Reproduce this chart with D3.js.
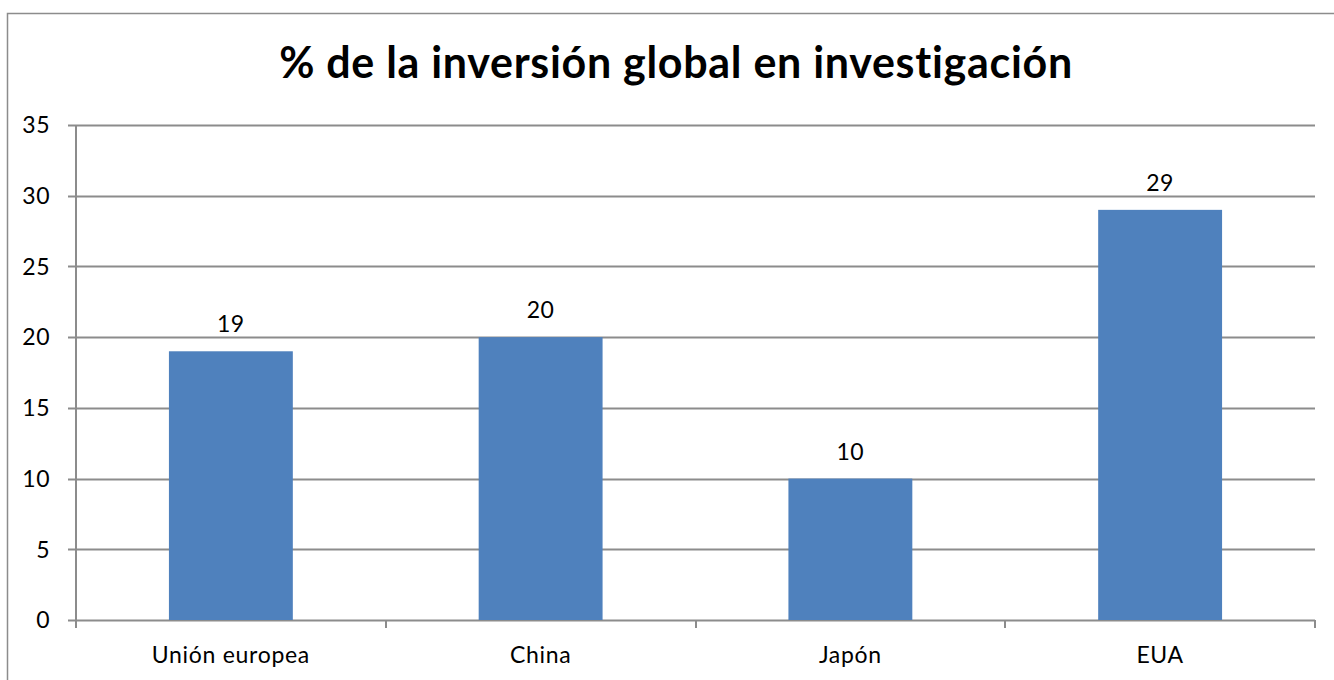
<!DOCTYPE html>
<html>
<head>
<meta charset="utf-8">
<script src="https://cdn.jsdelivr.net/npm/d3@7"></script>
<style>
body { margin: 0; background: #fff; }
svg text { font-family: Lato, "Open Sans", sans-serif; fill: #000; font-variant-ligatures: none; }
</style>
</head>
<body>
<svg id="chart"></svg>
<script>
// datos
var categories = ["Unión europea", "China", "Japón", "EUA"];
var values = [19, 20, 10, 29];
var yTicks = [0, 5, 10, 15, 20, 25, 30, 35];
var title = "% de la inversión global en investigación";

var width = 1334, height = 680;
var plot = { left: 76, right: 1315, top: 125, bottom: 620 };
var gridColor = "#8c8c8c";
var barColor = "#4f81bd";

var svg = d3.select("#chart")
	.attr("width", width)
	.attr("height", height);

// marco exterior
svg.append("rect")
	.attr("x", 7.5).attr("y", 13.5)
	.attr("width", 1340).attr("height", 700)
	.attr("fill", "none")
	.attr("stroke", "#8c8c8c")
	.attr("stroke-width", 1.5);

var x = d3.scaleBand()
	.domain(categories)
	.range([plot.left, plot.right])
	.paddingInner(0.6)
	.paddingOuter(0.3);

var xb = d3.scaleBand()
	.domain(categories)
	.range([plot.left, plot.right]);

var y = d3.scaleLinear()
	.domain([0, 35])
	.range([plot.bottom, plot.top]);

// rejilla horizontal
svg.append("g")
	.selectAll("line")
	.data(yTicks)
	.join("line")
	.attr("x1", plot.left - 8)
	.attr("x2", plot.right)
	.attr("y1", d => Math.round(y(d)) + 0.5)
	.attr("y2", d => Math.round(y(d)) + 0.5)
	.attr("stroke", gridColor)
	.attr("stroke-width", 2);

// etiquetas del eje y
svg.append("g")
	.selectAll("text")
	.data(yTicks)
	.join("text")
	.attr("x", 50)
	.attr("y", d => y(d))
	.attr("dy", "0.36em")
	.attr("text-anchor", "end")
	.attr("font-size", "23px")
	.attr("letter-spacing", "0.5px")
	.text(d => d);

// barras
svg.append("g")
	.selectAll("rect")
	.data(values)
	.join("rect")
	.attr("x", (d, i) => x(categories[i]))
	.attr("y", d => y(d))
	.attr("width", x.bandwidth())
	.attr("height", d => y(0) - y(d))
	.attr("fill", barColor);

// valores
svg.append("g")
	.selectAll("text")
	.data(values)
	.join("text")
	.attr("x", (d, i) => x(categories[i]) + x.bandwidth() / 2)
	.attr("y", d => y(d) - 19)
	.attr("text-anchor", "middle")
	.attr("font-size", "23px")
	.attr("letter-spacing", "0.5px")
	.text(d => d);

// eje vertical
svg.append("line")
	.attr("x1", plot.left).attr("x2", plot.left)
	.attr("y1", plot.top).attr("y2", plot.bottom)
	.attr("stroke", gridColor).attr("stroke-width", 2);

// marcas del eje x
var xTickPos = categories.map(c => xb(c)).concat([plot.right]);
svg.append("g")
	.selectAll("line")
	.data(xTickPos)
	.join("line")
	.attr("x1", d => Math.round(d))
	.attr("x2", d => Math.round(d))
	.attr("y1", plot.bottom)
	.attr("y2", plot.bottom + 8)
	.attr("stroke", gridColor)
	.attr("stroke-width", 2);

// etiquetas de categoria
svg.append("g")
	.selectAll("text")
	.data(categories)
	.join("text")
	.attr("x", d => xb(d) + xb.bandwidth() / 2)
	.attr("y", 663)
	.attr("text-anchor", "middle")
	.attr("font-size", "23px")
	.attr("letter-spacing", "0.7px")
	.text(d => d);

// titulo
svg.append("text")
	.attr("x", 676)
	.attr("y", 78)
	.attr("text-anchor", "middle")
	.attr("font-size", "43px")
	.attr("font-weight", "bold")
	.attr("letter-spacing", "0.7px")
	.text(title);
</script>
</body>
</html>
